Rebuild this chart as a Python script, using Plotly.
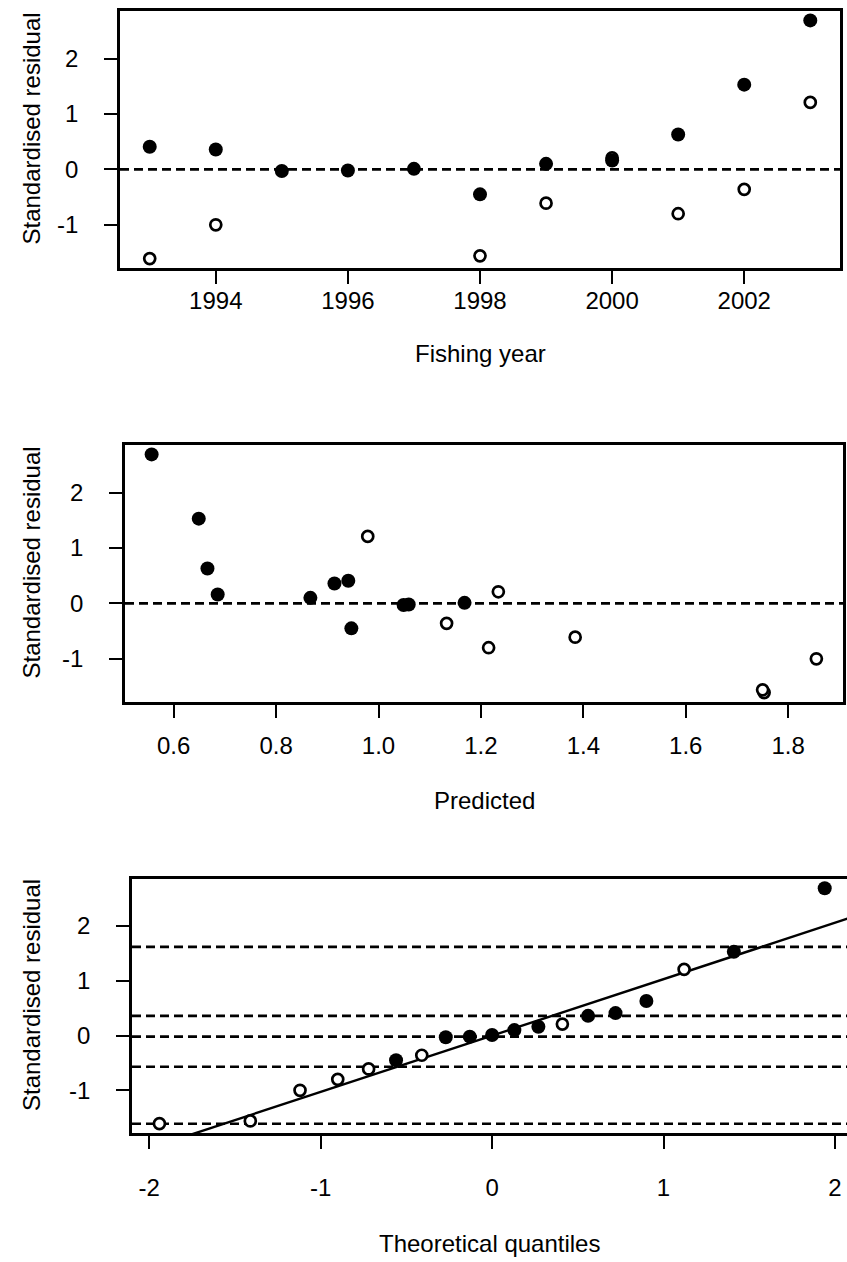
import plotly.graph_objects as go

# ---- data -------------------------------------------------------------
# Standardised residuals by fishing year, two series (filled / open markers)
years_filled = [1993, 1994, 1995, 1996, 1997, 1998, 1999, 2000, 2001, 2002, 2003]
resid_filled = [0.41, 0.36, -0.03, -0.02, 0.01, -0.45, 0.10, 0.16, 0.63, 1.53, 2.69]
pred_filled = [0.941, 0.914, 1.049, 1.059, 1.168, 0.947, 0.867, 0.686, 0.666, 0.649, 0.557]

years_open = [1993, 1994, 1998, 1999, 2000, 2001, 2002, 2003]
resid_open = [-1.61, -1.00, -1.56, -0.61, 0.21, -0.80, -0.36, 1.21]
pred_open = [1.753, 1.855, 1.750, 1.384, 1.234, 1.215, 1.133, 0.979]

# Theoretical normal quantiles for the 19 ordered residuals
theoretical_q = [-1.94, -1.41, -1.12, -0.90, -0.72, -0.56, -0.41, -0.27, -0.13, 0.00,
                 0.13, 0.27, 0.41, 0.56, 0.72, 0.90, 1.12, 1.41, 1.94]

# Reference levels
zero_level = 0.0
qq_hlines = [1.62, 0.36, -0.02, -0.57, -1.61]
qq_line_intercept = 0.0
qq_line_slope = 1.03

year_ticks = [1994, 1996, 1998, 2000, 2002]
pred_ticks = [0.6, 0.8, 1.0, 1.2, 1.4, 1.6, 1.8]
pred_tick_text = ["0.6", "0.8", "1.0", "1.2", "1.4", "1.6", "1.8"]
q_ticks = [-2, -1, 0, 1, 2]
q_tick_text = ["-2", "-1", "0", "1", "2"]
resid_ticks = [-1, 0, 1, 2]
resid_tick_text = ["-1", "0", "1", "2"]

# ---- figure geometry ---------------------------------------------------
W, H = 847, 1262
FONT = "Liberation Sans, Arial, sans-serif"
FS = 24


def xdom(left, right):
    return [left / W, right / W]


def ydom(top, bottom):
    return [1 - bottom / H, 1 - top / H]


panels = [
    dict(x=(120, 840), y=(11, 268), title_gap=85, label_standoff=-4),
    dict(x=(125, 843), y=(445, 702), title_gap=98, label_standoff=7),
    dict(x=(132, 847), y=(879, 1133), title_gap=110, label_standoff=18),
]

fig = go.Figure()

filled_style = dict(symbol="circle", size=14, color="black")
open_style = dict(symbol="circle", size=11, color="white", line=dict(width=2.7, color="black"))

# Panel 1: residuals vs fishing year (open drawn first, filled on top)
fig.add_trace(go.Scatter(x=years_open, y=resid_open, mode="markers",
                         marker=open_style, xaxis="x", yaxis="y", showlegend=False))
fig.add_trace(go.Scatter(x=years_filled, y=resid_filled, mode="markers",
                         marker=filled_style, xaxis="x", yaxis="y", showlegend=False))

# Panel 2: residuals vs predicted
fig.add_trace(go.Scatter(x=pred_open, y=resid_open, mode="markers",
                         marker=open_style, xaxis="x2", yaxis="y2", showlegend=False))
fig.add_trace(go.Scatter(x=pred_filled, y=resid_filled, mode="markers",
                         marker=filled_style, xaxis="x2", yaxis="y2", showlegend=False))

# Panel 3: normal Q-Q plot of the pooled residuals
pooled = [(r, "filled") for r in resid_filled] + [(r, "open") for r in resid_open]
pooled.sort(key=lambda t: t[0])
qq_fx = [q for q, (r, g) in zip(theoretical_q, pooled) if g == "filled"]
qq_fy = [r for q, (r, g) in zip(theoretical_q, pooled) if g == "filled"]
qq_ox = [q for q, (r, g) in zip(theoretical_q, pooled) if g == "open"]
qq_oy = [r for q, (r, g) in zip(theoretical_q, pooled) if g == "open"]

x3_range = [-2.1, 2.07]
line_x = [x3_range[0] - 0.5, x3_range[1] + 0.5]
line_y = [qq_line_intercept + qq_line_slope * v for v in line_x]
fig.add_trace(go.Scatter(x=line_x, y=line_y, mode="lines",
                         line=dict(color="black", width=2.4),
                         xaxis="x3", yaxis="y3", showlegend=False))
fig.add_trace(go.Scatter(x=qq_ox, y=qq_oy, mode="markers",
                         marker=open_style, xaxis="x3", yaxis="y3", showlegend=False))
fig.add_trace(go.Scatter(x=qq_fx, y=qq_fy, mode="markers",
                         marker=filled_style, xaxis="x3", yaxis="y3", showlegend=False))

dash_line = dict(color="black", width=2.6, dash="9px,5px")
for xr, yr in (("x domain", "y"), ("x2 domain", "y2")):
    fig.add_shape(type="line", xref=xr, yref=yr, x0=0, x1=1,
                  y0=zero_level, y1=zero_level, line=dash_line, layer="below")
for lvl in qq_hlines:
    fig.add_shape(type="line", xref="x3 domain", yref="y3", x0=0, x1=1,
                  y0=lvl, y1=lvl, line=dash_line, layer="below")

axis_common = dict(showline=True, linewidth=2.7, linecolor="black", ticks="outside",
                   ticklen=13, tickwidth=2.2, tickcolor="black", showgrid=False,
                   zeroline=False, tickfont=dict(family=FONT, size=FS, color="black"))

y_range = [-1.78, 2.86]
y_axis = dict(range=y_range, tickvals=resid_ticks, ticktext=resid_tick_text,
              ticklabelstandoff=21, **axis_common)

layout = dict(
    width=W, height=H, margin=dict(l=0, r=0, t=0, b=0),
    paper_bgcolor="white", plot_bgcolor="white",
    font=dict(family=FONT, size=FS, color="black"),
    xaxis=dict(domain=xdom(*panels[0]["x"]), anchor="y", range=[1992.55, 2003.45],
               tickvals=year_ticks, mirror=True,
               ticklabelstandoff=panels[0]["label_standoff"], **axis_common),
    yaxis=dict(domain=ydom(*panels[0]["y"]), anchor="x", mirror=True, **y_axis),
    xaxis2=dict(domain=xdom(*panels[1]["x"]), anchor="y2", range=[0.505, 1.907],
                tickvals=pred_ticks, ticktext=pred_tick_text, mirror=True,
                ticklabelstandoff=panels[1]["label_standoff"], **axis_common),
    yaxis2=dict(domain=ydom(*panels[1]["y"]), anchor="x2", mirror=True, **y_axis),
    xaxis3=dict(domain=xdom(*panels[2]["x"]), anchor="y3", range=x3_range,
                tickvals=q_ticks, ticktext=q_tick_text, mirror=True,
                ticklabelstandoff=panels[2]["label_standoff"], **axis_common),
    yaxis3=dict(domain=ydom(*panels[2]["y"]), anchor="x3", mirror=False, **y_axis),
)
fig.update_layout(**layout)

# Axis titles
x_titles = ["Fishing year", "Predicted", "Theoretical quantiles"]
for p, title in zip(panels, x_titles):
    cx = (p["x"][0] + min(p["x"][1], 851)) / 2
    fig.add_annotation(text=title, x=cx / W, y=1 - (p["y"][1] + p["title_gap"]) / H,
                       xref="paper", yref="paper", showarrow=False,
                       xanchor="center", yanchor="middle",
                       font=dict(family=FONT, size=FS, color="black"))
    fig.add_annotation(text="Standardised residual", x=31 / W,
                       y=1 - ((p["y"][0] + p["y"][1]) / 2 - 11) / H,
                       xref="paper", yref="paper", showarrow=False, textangle=-90,
                       xanchor="center", yanchor="middle",
                       font=dict(family=FONT, size=FS, color="black"))

fig.write_html("out.html")
